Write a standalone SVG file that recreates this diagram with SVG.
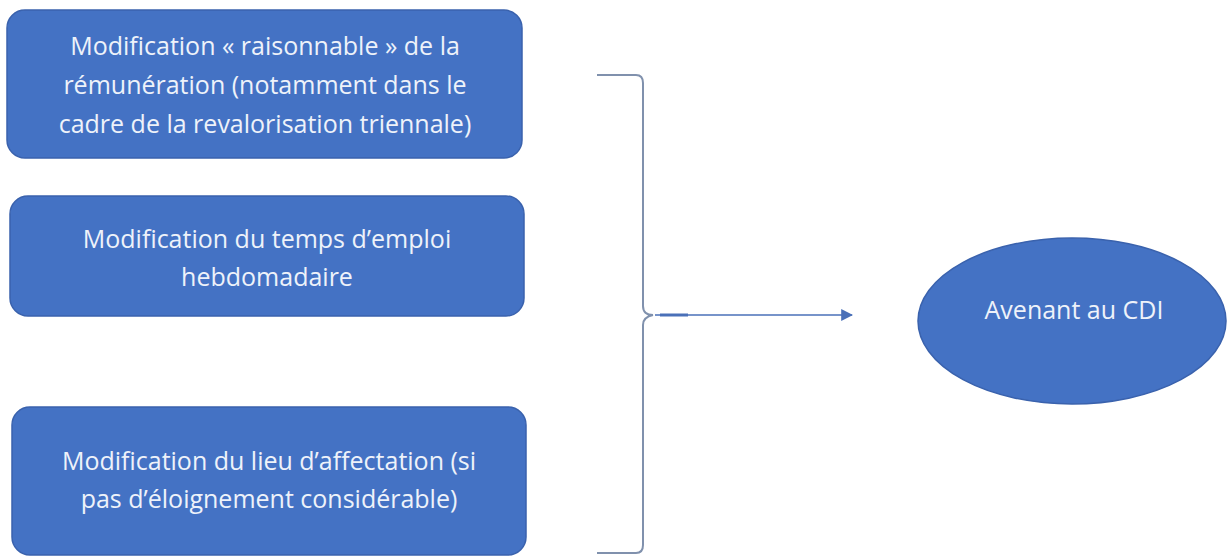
<svg xmlns="http://www.w3.org/2000/svg" width="1229" height="558" viewBox="0 0 1229 558">
<defs>
<style>
.box{fill:#4472c4;stroke:#3a62ad;stroke-width:1.5}
.t{font-family:"Open Sans","Liberation Sans",sans-serif;font-size:25px;fill:#eef2fa;text-anchor:middle}
.br{fill:none;stroke:#8091ad;stroke-width:2}
.ar{fill:none;stroke:#4a70b8;stroke-width:1.6}
</style>
<marker id="ah" viewBox="0 0 10 10" refX="9" refY="5" markerWidth="12" markerHeight="12" markerUnits="userSpaceOnUse" orient="auto">
<path d="M0,0 L10,5 L0,10 z" fill="#4a70b8"/>
</marker>
</defs>
<rect width="1229" height="558" fill="#ffffff"/>
<g id="node1">
<rect class="box" x="7" y="10" width="515" height="148" rx="18"/>
<text class="t" x="265" y="55">Modification « raisonnable » de la</text>
<text class="t" x="265" y="94">rémunération (notamment dans le</text>
<text class="t" x="265" y="133">cadre de la revalorisation triennale)</text>
</g>
<g id="node2">
<rect class="box" x="10" y="196" width="514" height="120" rx="18"/>
<text class="t" x="267" y="248">Modification du temps d’emploi</text>
<text class="t" x="267" y="286">hebdomadaire</text>
</g>
<g id="node3">
<rect class="box" x="12" y="407" width="514" height="148" rx="18"/>
<text class="t" x="269" y="470">Modification du lieu d’affectation (si</text>
<text class="t" x="269" y="508">pas d’éloignement considérable)</text>
</g>
<g id="node4">
<ellipse class="box" cx="1072" cy="321" rx="154" ry="83"/>
<text class="t" x="1074" y="319">Avenant au CDI</text>
</g>
<g id="connectors">
<path class="br" d="M597,75 L636,75 Q643,75 643,83 L643,306 Q643,315 653,315 Q643,317 643,325 L643,545 Q643,553 636,553 L597,553"/>
<line class="ar" x1="655" y1="315" x2="852" y2="315" marker-end="url(#ah)"/>
<line x1="660" y1="315" x2="688" y2="315" stroke="#4a70b8" stroke-width="3"/>
</g>
</svg>
